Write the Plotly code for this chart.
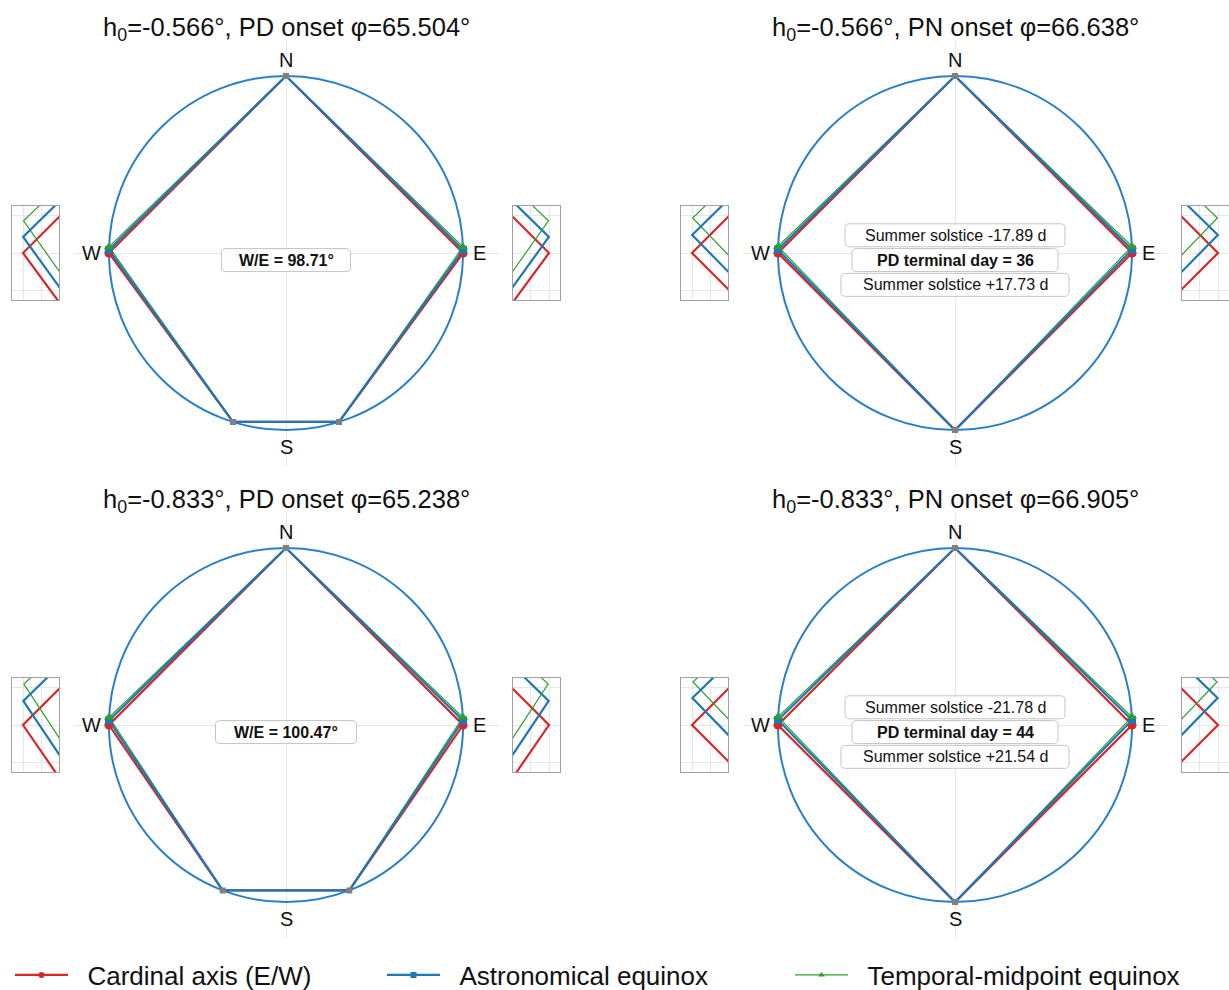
import numpy as np
import plotly.graph_objects as go

# ---- values shown in the four dials ----
h0_values = [-0.566, -0.833]            # horizon altitude used for sunrise/sunset, deg
pd_onset_lat = [65.504, 65.238]         # latitude of polar-day onset, deg
pn_onset_lat = [66.638, 66.905]         # latitude of polar-night onset, deg
we_angle_deg = [98.71, 100.47]          # interior angle at the W/E vertices (PD onset dials)
solstice_minus_d = [-17.89, -21.78]     # days before summer solstice
solstice_plus_d = [17.73, 21.54]        # days after summer solstice
pd_terminal_day = [36, 44]

# shift of the E/W vertex toward N for each equinox definition, deg of arc
astro_shift_pd = [0.98, 1.47]
astro_shift_pn = [1.10, 1.65]
midpoint_shift_pd = [1.96, 2.50]
midpoint_shift_pn = [2.14, 2.63]

series_names = ["Cardinal axis (E/W)", "Astronomical equinox", "Temporal-midpoint equinox"]

# ---- styling ----
FIG_W, FIG_H = 1229, 990
FONT = "Arial, 'Liberation Sans', sans-serif"
RED, BLUE, GREEN = "#d62728", "#1f77b4", "#2ca02c"
DIAL = "#2a80c8"
GRID = "#e6e6e6"
FRAME = "#a0a0a0"
BOX_EDGE = "#c4c4c4"

HALF = 212.5                 # half side of a dial plot area, px
RANGE = 1.2
PX_PER_UNIT = HALF / RANGE
ZOOM_PX = 938.0              # px per unit in the magnified side views
INSET_W, INSET_H = 47, 94

col_cx = [286, 955]
row_cy = [253, 725]


def dom_x(x0, x1):
    return [x0 / FIG_W, x1 / FIG_W]


def dom_y(top, bottom):
    return [1 - bottom / FIG_H, 1 - top / FIG_H]


def dial_xy(az):
    a = np.radians(np.asarray(az, dtype=float))
    return np.sin(a), np.cos(a)


def ax_names(n):
    s = "" if n == 1 else str(n)
    return "xaxis" + s, "yaxis" + s, "x" + s, "y" + s


def rounded_box(cx_px, cy_px, w, h, rad=4.5):
    """Rounded rectangle (paper coords) centred on a pixel position."""
    x0, x1 = cx_px - w / 2, cx_px + w / 2
    y0, y1 = cy_px - h / 2, cy_px + h / 2
    X = lambda v: f"{v / FIG_W:.6f}"
    Y = lambda v: f"{1 - v / FIG_H:.6f}"
    p = (f"M{X(x0 + rad)},{Y(y0)} L{X(x1 - rad)},{Y(y0)} Q{X(x1)},{Y(y0)} {X(x1)},{Y(y0 + rad)} "
         f"L{X(x1)},{Y(y1 - rad)} Q{X(x1)},{Y(y1)} {X(x1 - rad)},{Y(y1)} "
         f"L{X(x0 + rad)},{Y(y1)} Q{X(x0)},{Y(y1)} {X(x0)},{Y(y1 - rad)} "
         f"L{X(x0)},{Y(y0 + rad)} Q{X(x0)},{Y(y0)} {X(x0 + rad)},{Y(y0)} Z")
    return dict(type="path", xref="paper", yref="paper", path=p, fillcolor="white",
                line=dict(color=BOX_EDGE, width=1), layer="above")


fig = go.Figure()
layout_axes = {}
annotations = []
shapes = []
marker_traces = []

panel_specs = [("PD", 0, 0), ("PN", 0, 1), ("PD", 1, 0), ("PN", 1, 1)]

colors = [RED, BLUE, GREEN]
widths = [2.2, 2.2, 1.2]
symbols = ["circle", "square", "triangle-up"]
msizes = [9, 8, 9]

for k, (kind, r, c) in enumerate(panel_specs):
    cx, cy = col_cx[c], row_cy[r]
    main_n, w_n, e_n = 3 * k + 1, 3 * k + 2, 3 * k + 3

    # vertex azimuths (clockwise from N) of each series
    if kind == "PD":
        g = 2 * (we_angle_deg[r] - 90.0)
        shifts = [0.0, astro_shift_pd[r], midpoint_shift_pd[r]]
        paths = [[0, 90 - d, 180 - g, 180 + g, 270 + d, 360] for d in shifts]
        ew_idx = [1, 4]
        ns_az = [0, 180 - g, 180 + g]
        title = f"h<sub>0</sub>={h0_values[r]:.3f}°, PD onset φ={pd_onset_lat[r]:.3f}°"
    else:
        shifts = [0.0, astro_shift_pn[r], midpoint_shift_pn[r]]
        paths = [[0, 90 - d, 180, 270 + d, 360] for d in shifts]
        ew_idx = [1, 3]
        ns_az = [0, 180]
        title = f"h<sub>0</sub>={h0_values[r]:.3f}°, PN onset φ={pn_onset_lat[r]:.3f}°"

    # axes: main dial + two magnified side views
    xa, ya, xr, yr = ax_names(main_n)
    layout_axes[xa] = dict(domain=dom_x(cx - HALF, cx + HALF), range=[-RANGE, RANGE], anchor=yr,
                           showgrid=False, zeroline=True, zerolinecolor=GRID, zerolinewidth=1,
                           showticklabels=False, ticks="", showline=False, fixedrange=True)
    layout_axes[ya] = dict(domain=dom_y(cy - HALF, cy + HALF), range=[-RANGE, RANGE], anchor=xr,
                           showgrid=False, zeroline=True, zerolinecolor=GRID, zerolinewidth=1,
                           showticklabels=False, ticks="", showline=False, fixedrange=True)

    inset_top = cy - INSET_H / 2
    for n, side in ((w_n, "W"), (e_n, "E")):
        ixa, iya, ixr, iyr = ax_names(n)
        if side == "W":
            left = cx - 274
            xr_rng = [-1 - 11 / ZOOM_PX, -1 + (INSET_W - 11) / ZOOM_PX]
            xt = [-1.0, -0.98]
        else:
            left = cx + 227
            xr_rng = [1 - (INSET_W - 11) / ZOOM_PX, 1 + 11 / ZOOM_PX]
            xt = [0.98, 1.0]
        half_h = INSET_H / 2 / ZOOM_PX
        layout_axes[ixa] = dict(domain=dom_x(left, left + INSET_W), range=xr_rng, anchor=iyr,
                                showgrid=True, gridcolor=GRID, gridwidth=1, tickvals=xt,
                                showticklabels=False, ticks="", zeroline=False,
                                showline=True, mirror=True, linecolor=FRAME, linewidth=1.2,
                                fixedrange=True)
        layout_axes[iya] = dict(domain=dom_y(inset_top, inset_top + INSET_H),
                                range=[-half_h, half_h], anchor=ixr,
                                showgrid=True, gridcolor=GRID, gridwidth=1,
                                tickvals=[-0.04, 0.0, 0.04],
                                showticklabels=False, ticks="", zeroline=False,
                                showline=True, mirror=True, linecolor=FRAME, linewidth=1.2,
                                fixedrange=True)

    # dial circle
    shapes.append(dict(type="circle", xref=xr, yref=yr, x0=-1, y0=-1, x1=1, y1=1,
                       line=dict(color=DIAL, width=2), layer="between"))

    # polygon lines (main dial + both side views)
    for si in [0, 2, 1]:
        xs, ys = dial_xy(paths[si])
        fig.add_trace(go.Scatter(x=xs, y=ys, xaxis=xr, yaxis=yr, mode="lines",
                                 line=dict(color=colors[si], width=widths[si]),
                                 showlegend=False, hoverinfo="skip"))
        for n in (w_n, e_n):
            _, _, ixr, iyr = ax_names(n)
            fig.add_trace(go.Scatter(x=xs, y=ys, xaxis=ixr, yaxis=iyr, mode="lines",
                                     line=dict(color=colors[si], width=widths[si]),
                                     showlegend=False, hoverinfo="skip"))

    # N / S anchor points
    nx, ny = dial_xy(ns_az)
    fig.add_trace(go.Scatter(x=nx, y=ny, xaxis=xr, yaxis=yr, mode="markers",
                             marker=dict(symbol="square", size=6, color="#808080"),
                             showlegend=False, hoverinfo="skip"))

    # E / W vertex markers, drawn over every line
    for si in [0, 1, 2]:
        xs, ys = dial_xy([paths[si][i] for i in ew_idx])
        marker_traces.append(go.Scatter(x=xs, y=ys, xaxis=xr, yaxis=yr, mode="markers",
                                        marker=dict(symbol=symbols[si], size=msizes[si],
                                                    color=colors[si], line=dict(width=0)),
                                        showlegend=False, hoverinfo="skip"))

    # labels
    annotations.append(dict(text=title, xref="paper", yref="paper", x=cx / FIG_W,
                            y=1 - (cy - 224) / FIG_H,
                            showarrow=False, font=dict(size=25.5, color="#111"),
                            xanchor="center", yanchor="middle"))
    for lab, lx, ly in (("N", 0, 1.09), ("S", 0, -1.095), ("W", -1.10, 0), ("E", 1.09, 0)):
        annotations.append(dict(text=lab, xref=xr, yref=yr, x=lx, y=ly, showarrow=False,
                                font=dict(size=20, color="#111"), xanchor="center", yanchor="middle"))

    # info boxes: (text, data y, box width px)
    if kind == "PD":
        boxes = [(f"<b>W/E = {we_angle_deg[r]:.2f}°</b>", -0.04,
                  129 if we_angle_deg[r] < 100 else 141)]
    else:
        boxes = [(f"Summer solstice {solstice_minus_d[r]:.2f} d", 0.10, 220),
                 (f"<b>PD terminal day = {pd_terminal_day[r]}</b>", -0.04, 206),
                 (f"Summer solstice +{solstice_plus_d[r]:.2f} d", -0.18, 228)]
    for txt, by, bw in boxes:
        shapes.append(rounded_box(cx, cy - by * PX_PER_UNIT, bw, 23))
        annotations.append(dict(text=txt, xref=xr, yref=yr, x=0, y=by, showarrow=False,
                                font=dict(size=16, color="#111"),
                                xanchor="center", yanchor="middle"))

for t in marker_traces:
    fig.add_trace(t)

# legend entries, one legend per series
legend_left_px = [10, 382, 790]
legend_ids = ["legend", "legend2", "legend3"]
NBSP = "\u00a0"
for i, (name, color, sym, w) in enumerate(zip(series_names, colors, symbols, widths)):
    fig.add_trace(go.Scatter(x=[None], y=[None], xaxis="x", yaxis="y", mode="lines+markers",
                             name=NBSP * 2 + name, legend=legend_ids[i],
                             line=dict(color=color, width=w),
                             marker=dict(symbol=sym, size=6, color=color)))

legend_layout = {}
for i, lid in enumerate(legend_ids):
    legend_layout[lid] = dict(x=legend_left_px[i] / FIG_W, y=1 - 975 / FIG_H, xanchor="left",
                              yanchor="middle", orientation="h", bgcolor="rgba(0,0,0,0)",
                              font=dict(size=26, color="#111"), itemwidth=53)

fig.update_layout(width=FIG_W, height=FIG_H,
                  margin=dict(l=0, r=0, t=0, b=0, autoexpand=False),
                  paper_bgcolor="white", plot_bgcolor="white",
                  font=dict(family=FONT, color="#111"),
                  annotations=annotations, shapes=shapes, **layout_axes, **legend_layout)

fig.write_html("out.html")
